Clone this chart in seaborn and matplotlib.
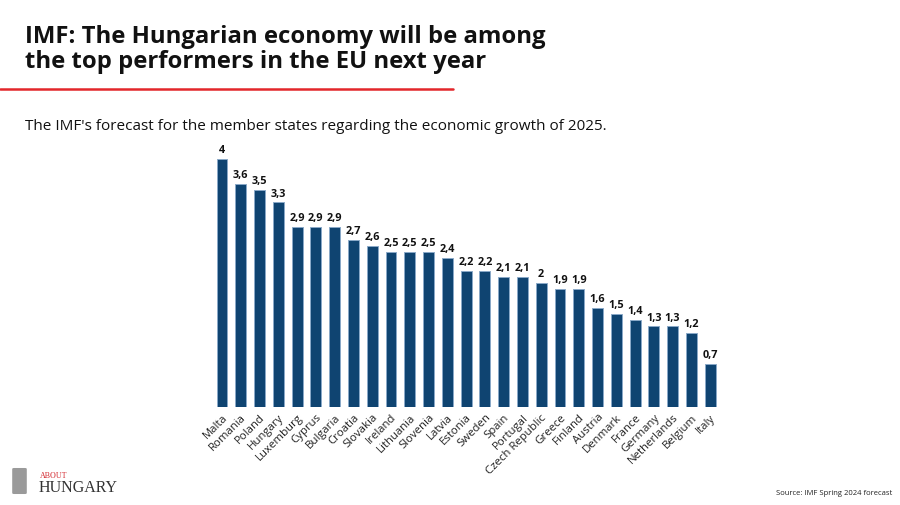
import matplotlib
matplotlib.use('Agg')
import matplotlib.pyplot as plt
from matplotlib.patches import FancyBboxPatch
import seaborn as sns
import pandas as pd

# Dados do gráfico
paises = ['Malta', 'Romania', 'Poland', 'Hungary', 'Luxemburg', 'Cyprus', 'Bulgaria',
          'Croatia', 'Slovakia', 'Ireland', 'Lithuania', 'Slovenia', 'Latvia', 'Estonia',
          'Sweden', 'Spain', 'Portugal', 'Czech Republic', 'Greece', 'Finland', 'Austria',
          'Denmark', 'France', 'Germany', 'Netherlands', 'Belgium', 'Italy']
crescimento = [4, 3.6, 3.5, 3.3, 2.9, 2.9, 2.9, 2.7, 2.6, 2.5, 2.5, 2.5, 2.4, 2.2,
               2.2, 2.1, 2.1, 2, 1.9, 1.9, 1.6, 1.5, 1.4, 1.3, 1.3, 1.2, 0.7]

titulo = 'IMF: The Hungarian economy will be among\nthe top performers in the EU next year'
subtitulo = "The IMF's forecast for the member states regarding the economic growth of 2025."
fonte = 'Source: IMF Spring 2024 forecast'

dados = pd.DataFrame({'pais': paises, 'valor': crescimento})

sns.set_theme(style='white')
plt.rcParams['font.family'] = ['Open Sans', 'DejaVu Sans']

fig = plt.figure(figsize=(9, 5.06), dpi=100)
ax = fig.add_axes([0.2362, 0.1937, 0.5633, 0.527])

sns.barplot(data=dados, x='pais', y='valor', color='#0f4471', saturation=1,
            width=0.58, edgecolor='#8aa9c8', linewidth=0.7, ax=ax)

ax.set_xlim(-0.5, len(paises) - 0.5)
ax.set_ylim(0, 4.3)
ax.set_xlabel('')
ax.set_ylabel('')
ax.set_yticks([])
for lado in ax.spines.values():
    lado.set_visible(False)
ax.tick_params(axis='x', length=0, pad=3)
plt.setp(ax.get_xticklabels(), rotation=45, ha='right', rotation_mode='anchor',
         fontsize=8.2, color='#222222')

# Rótulos com vírgula decimal
for i, v in enumerate(crescimento):
    ax.text(i, v + 0.06, f'{v:g}'.replace('.', ','), ha='center', va='bottom',
            fontsize=7.8, fontweight='bold', color='#111111')

# Título, linha vermelha e subtítulo
fig.text(25 / 900, 1 - 25 / 506, titulo, ha='left', va='top', fontsize=17.2,
         fontweight='bold', color='#111111', linespacing=1.08)
fig.add_artist(plt.Line2D([0, 453 / 900], [1 - 90 / 506] * 2, color='#e3262b',
                          linewidth=1.8))
fig.text(25 / 900, 1 - 126 / 506, subtitulo, ha='left', va='center', fontsize=10.95,
         color='#111111')

# Logo e fonte
fig.add_artist(FancyBboxPatch((14 / 900, 1 - 494 / 506), 11 / 900, 24 / 506,
                              boxstyle='round,pad=0.002', facecolor='#9a9a9a',
                              edgecolor='none', transform=fig.transFigure))
fig.text(40 / 900, 1 - 476 / 506, 'ABOUT', ha='left', va='center', fontsize=5.8,
         color='#d3282e', family=['Liberation Serif', 'DejaVu Serif'])
fig.text(39 / 900, 1 - 488 / 506, 'HUNGARY', ha='left', va='center', fontsize=11.5,
         color='#333333', family=['Liberation Serif', 'DejaVu Serif'])
fig.text(892 / 900, 1 - 494 / 506, fonte, ha='right', va='center', fontsize=5.5,
         color='#222222')

fig.savefig('out.png', dpi=100)
